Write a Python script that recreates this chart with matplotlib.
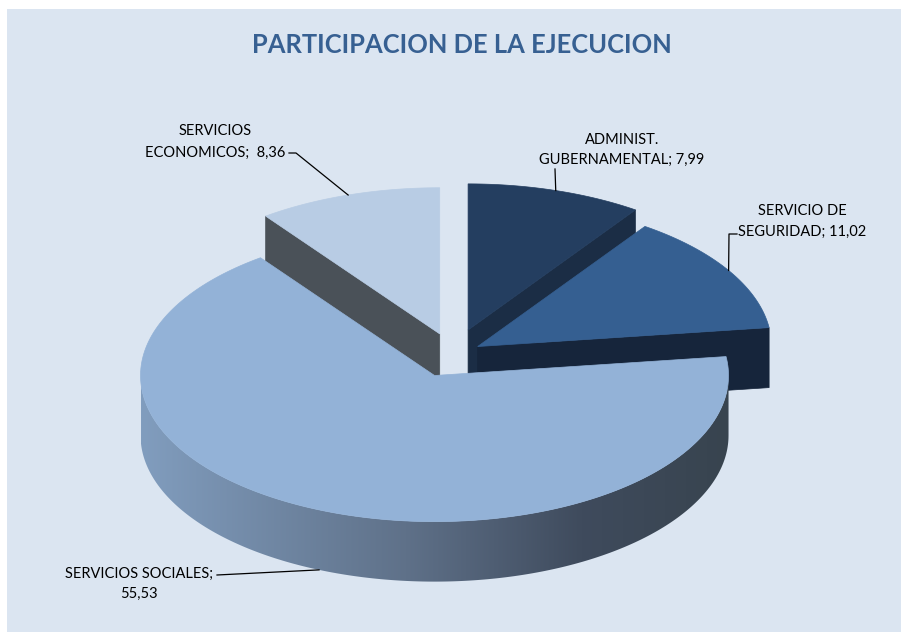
import numpy as np
import matplotlib
matplotlib.use("Agg")
import matplotlib.pyplot as plt
from matplotlib.patches import Polygon, Rectangle
from matplotlib.colors import LinearSegmentedColormap

# data (Excel 3D pie, clockwise from 12 o'clock)
categories = ["ADMINIST. GUBERNAMENTAL", "SERVICIO DE SEGURIDAD",
              "SERVICIOS SOCIALES", "SERVICIOS ECONOMICOS"]
values = [7.99, 11.02, 55.53, 8.36]
label_lines = [["ADMINIST.", "GUBERNAMENTAL; 7,99"],
               ["SERVICIO DE", "SEGURIDAD; 11,02"],
               ["SERVICIOS SOCIALES;", "55,53"],
               ["SERVICIOS", "ECONOMICOS;  8,36"]]

# style
top_colors = ["#243E60", "#355F91", "#93B2D7", "#B8CCE4"]
wall_colors = ["#1B2D45", "#16253B", "#5E7088", "#4A5158"]
explode = [0.172, 0.098, 0.16, 0.145]
bg = "#DBE5F1"
title_color = "#376092"

plt.rcParams["font.family"] = ["Lato", "DejaVu Sans"]

W, H = 901, 632
CX, CY, SCALE = 453, 354, 294   # pie centre and radius in pixels
K = 0.497                        # tilt (vertical squash)
DEPTH = 60 / SCALE               # thickness


def px(x, y):
    return (x - CX) / SCALE, (CY - y) / SCALE


fig = plt.figure(figsize=(W / 100, H / 100), dpi=100)
fig.patch.set_facecolor("white")
ax = fig.add_axes([0, 0, 1, 1])
ax.set_facecolor("none")
ax.axis("off")

bx0, by0 = px(7, H)
bx1, by1 = px(W, 9)
ax.add_patch(Rectangle((bx0, by0), bx1 - bx0, by1 - by0, facecolor=bg,
                       edgecolor="none", zorder=0))

total = sum(values)
spans = [v / total * 360 for v in values]
starts = np.concatenate([[0], np.cumsum(spans)[:-1]])
mids = starts + np.array(spans) / 2


def offset(i):
    m = np.radians(mids[i])
    return explode[i] * np.sin(m), explode[i] * np.cos(m)


def proj(theta, off, r=1.0, down=0.0):
    t = np.radians(theta)
    u = off[0] + r * np.sin(t)
    v = off[1] + r * np.cos(t)
    return np.column_stack([u, v * K - down])


grad_cmap = LinearSegmentedColormap.from_list(
    "wall", [(0, "#819DBE"), (0.45, "#5F7189"), (0.75, "#3F4B5D"), (1, "#38444F")])

z = 2
order = [3, 0, 1, 2]
for i in order:
    a0, a1 = starts[i], starts[i] + spans[i]
    off = offset(i)
    apex_t = proj(np.array([0.0]), off, r=0)
    apex_b = proj(np.array([0.0]), off, r=0, down=DEPTH)

    # outer wall, front half only
    lo, hi = max(a0, 90), min(a1, 270)
    if hi > lo:
        th = np.linspace(lo, hi, 200)
        pts = np.vstack([proj(th, off), proj(th[::-1], off, down=DEPTH)])
        wall = Polygon(pts, closed=True, facecolor="none", edgecolor="none", zorder=z)
        ax.add_patch(wall)
        xs = pts[:, 0]
        im = ax.imshow(np.linspace(0, 1, 256)[None, :], cmap=grad_cmap, aspect="auto",
                       extent=[xs.min(), xs.max(), pts[:, 1].min(), pts[:, 1].max()],
                       zorder=z, interpolation="bilinear")
        im.set_clip_path(wall)
        z += 1

    # radial walls that face the viewer
    for a, vis in ((a0, np.sin(np.radians(a0)) < -1e-6), (a1, np.sin(np.radians(a1)) > 1e-6)):
        if vis:
            r_t = proj(np.array([a]), off)
            r_b = proj(np.array([a]), off, down=DEPTH)
            quad = np.vstack([apex_t, r_t, r_b, apex_b])
            ax.add_patch(Polygon(quad, closed=True, facecolor=wall_colors[i],
                                 edgecolor=wall_colors[i], linewidth=0.5, zorder=z))
            z += 1

    # top face
    th = np.linspace(a0, a1, 200)
    pts = np.vstack([apex_t, proj(th, off)])
    ax.add_patch(Polygon(pts, closed=True, facecolor=top_colors[i],
                         edgecolor=top_colors[i], linewidth=0.5, zorder=z))
    z += 1

# leader lines (anchor at slice mid angle on the rim) and labels, positions in px
anchors = []
for i in range(len(values)):
    down = DEPTH if i == 2 else 0.0
    anchors.append(proj(np.array([mids[i]]), offset(i), down=down)[0])

leaders = [[px(555, 169)],
           [px(729, 234), px(737, 234)],
           [px(217, 575)],
           [px(296, 153), px(289, 153)]]
for i in range(len(values)):
    pts = np.vstack([anchors[i]] + [np.array(p) for p in leaders[i]])
    ax.plot(pts[:, 0], pts[:, 1], color="black", lw=0.9, zorder=50)

label_pos = [(622, 144, 164), (802, 215, 236), (139, 578, 598), (215, 135, 157)]
for i, (lx, b1, b2) in enumerate(label_pos):
    for line, b in zip(label_lines[i], (b1, b2)):
        x, y = px(lx, b)
        ax.text(x, y, line, ha="center", va="baseline", fontsize=10.5,
                color="black", zorder=60)

tx, ty = px(461.5, 53)
ax.text(tx, ty, "PARTICIPACION DE LA EJECUCION", ha="center", va="baseline",
        fontsize=18.4, fontweight="bold", color=title_color, zorder=60)

x0, y0 = px(0, H)
x1, y1 = px(W, 0)
ax.set_xlim(x0, x1)
ax.set_ylim(y0, y1)
ax.set_aspect("auto")

fig.savefig("out.png", dpi=100, facecolor=fig.get_facecolor())
